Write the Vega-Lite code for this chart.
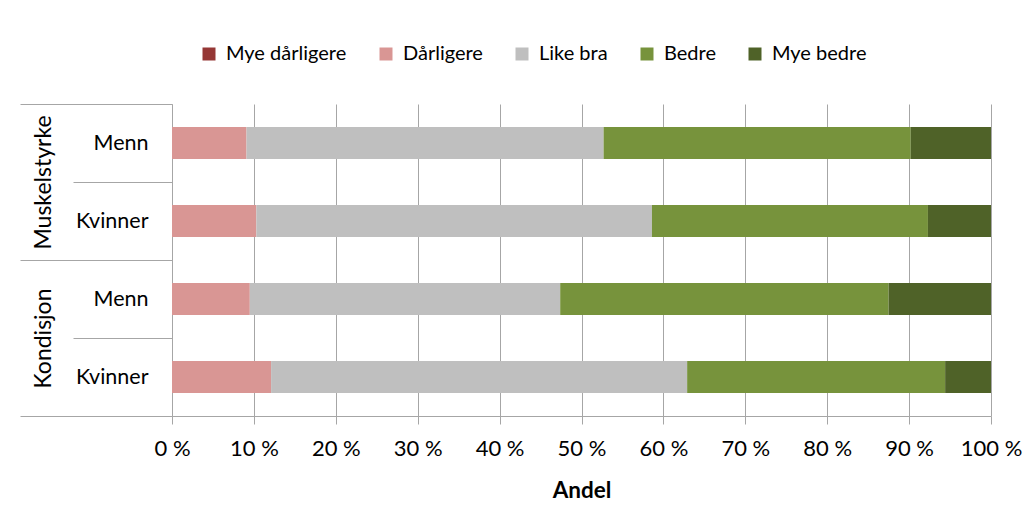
{
  "$schema": "https://vega.github.io/schema/vega-lite/v6.json",
  "width": 819,
  "height": 312,
  "autosize": "none",
  "padding": {"left": 172, "top": 104, "right": 41, "bottom": 116},
  "background": "white",
  "config": {
    "view": {"stroke": null},
    "font": "Lato",
    "axis": {"labelColor": "#000000", "titleColor": "#000000", "labelFont": "Lato", "titleFont": "Lato"},
    "legend": {"labelFont": "Lato"}
  },
  "data": {
    "values": [
      {"Gruppe": "Muskelstyrke", "Rad": "Muskelstyrke Menn", "Svar": "Mye dårligere", "Andel": 0},
      {"Gruppe": "Muskelstyrke", "Rad": "Muskelstyrke Menn", "Svar": "Dårligere", "Andel": 9.1},
      {"Gruppe": "Muskelstyrke", "Rad": "Muskelstyrke Menn", "Svar": "Like bra", "Andel": 43.6},
      {"Gruppe": "Muskelstyrke", "Rad": "Muskelstyrke Menn", "Svar": "Bedre", "Andel": 37.5},
      {"Gruppe": "Muskelstyrke", "Rad": "Muskelstyrke Menn", "Svar": "Mye bedre", "Andel": 9.8},
      {"Gruppe": "Muskelstyrke", "Rad": "Muskelstyrke Kvinner", "Svar": "Mye dårligere", "Andel": 0},
      {"Gruppe": "Muskelstyrke", "Rad": "Muskelstyrke Kvinner", "Svar": "Dårligere", "Andel": 10.3},
      {"Gruppe": "Muskelstyrke", "Rad": "Muskelstyrke Kvinner", "Svar": "Like bra", "Andel": 48.3},
      {"Gruppe": "Muskelstyrke", "Rad": "Muskelstyrke Kvinner", "Svar": "Bedre", "Andel": 33.7},
      {"Gruppe": "Muskelstyrke", "Rad": "Muskelstyrke Kvinner", "Svar": "Mye bedre", "Andel": 7.7},
      {"Gruppe": "Kondisjon", "Rad": "Kondisjon Menn", "Svar": "Mye dårligere", "Andel": 0},
      {"Gruppe": "Kondisjon", "Rad": "Kondisjon Menn", "Svar": "Dårligere", "Andel": 9.5},
      {"Gruppe": "Kondisjon", "Rad": "Kondisjon Menn", "Svar": "Like bra", "Andel": 37.9},
      {"Gruppe": "Kondisjon", "Rad": "Kondisjon Menn", "Svar": "Bedre", "Andel": 40.1},
      {"Gruppe": "Kondisjon", "Rad": "Kondisjon Menn", "Svar": "Mye bedre", "Andel": 12.5},
      {"Gruppe": "Kondisjon", "Rad": "Kondisjon Kvinner", "Svar": "Mye dårligere", "Andel": 0},
      {"Gruppe": "Kondisjon", "Rad": "Kondisjon Kvinner", "Svar": "Dårligere", "Andel": 12.1},
      {"Gruppe": "Kondisjon", "Rad": "Kondisjon Kvinner", "Svar": "Like bra", "Andel": 50.8},
      {"Gruppe": "Kondisjon", "Rad": "Kondisjon Kvinner", "Svar": "Bedre", "Andel": 31.5},
      {"Gruppe": "Kondisjon", "Rad": "Kondisjon Kvinner", "Svar": "Mye bedre", "Andel": 5.6}
    ]
  },
  "transform": [
    {"calculate": "indexof(['Mye dårligere','Dårligere','Like bra','Bedre','Mye bedre'], datum.Svar)", "as": "ordre"}
  ],
  "layer": [
    {
      "mark": {"type": "bar", "opacity": 0},
      "encoding": {
        "y": {
          "field": "Gruppe",
          "type": "nominal",
          "sort": ["Muskelstyrke", "Kondisjon"],
          "scale": {"paddingInner": 0, "paddingOuter": 0},
          "axis": {
            "orient": "left",
            "title": null,
            "domain": false,
            "tickBand": "extent",
            "tickSize": 152,
            "tickColor": "#A6A6A6",
            "labelPadding": -30,
            "labelAngle": -90,
            "labelAlign": "center",
            "labelBaseline": "alphabetic",
            "labelFontSize": 23
          }
        }
      }
    },
    {
      "mark": {"type": "bar", "height": {"band": 0.41}},
      "encoding": {
        "y": {
          "field": "Rad",
          "type": "nominal",
          "sort": ["Muskelstyrke Menn", "Muskelstyrke Kvinner", "Kondisjon Menn", "Kondisjon Kvinner"],
          "scale": {"paddingInner": 0, "paddingOuter": 0},
          "axis": {
            "orient": "left",
            "title": null,
            "domain": false,
            "tickBand": "extent",
            "tickSize": 99,
            "tickColor": "#A6A6A6",
            "labelPadding": -75,
            "labelAlign": "right",
            "labelBaseline": "middle",
            "labelFontSize": 21.5,
            "labelExpr": "split(datum.label, ' ')[1]"
          }
        },
        "x": {
          "field": "Andel",
          "type": "quantitative",
          "stack": true,
          "scale": {"domain": [0, 100]},
          "axis": {
            "title": "Andel",
            "titleFontSize": 22.5,
            "titleFontWeight": "bold",
            "titlePadding": 20,
            "values": [0, 10, 20, 30, 40, 50, 60, 70, 80, 90, 100],
            "labelExpr": "datum.value + ' %'",
            "labelFontSize": 22,
            "labelPadding": 14,
            "labelOverlap": false,
            "labelFlush": false,
            "tickSize": 8,
            "tickColor": "#A6A6A6",
            "domainColor": "#A6A6A6",
            "grid": true,
            "gridColor": "#A6A6A6",
            "gridOpacity": 1
          }
        },
        "color": {
          "field": "Svar",
          "type": "nominal",
          "sort": ["Mye dårligere", "Dårligere", "Like bra", "Bedre", "Mye bedre"],
          "scale": {
            "domain": ["Mye dårligere", "Dårligere", "Like bra", "Bedre", "Mye bedre"],
            "range": ["#953735", "#D99694", "#BFBFBF", "#77933C", "#4F6228"]
          },
          "legend": {
            "title": null,
            "orient": "none",
            "direction": "horizontal",
            "legendX": 27,
            "legendY": -60,
            "padding": 0,
            "symbolType": "square",
            "symbolSize": 169,
            "symbolStrokeWidth": 0,
            "symbolOpacity": 1,
            "labelFontSize": 20,
            "labelOffset": 7,
            "columnPadding": 29,
            "labelColor": "#000000"
          }
        },
        "order": {"field": "ordre", "type": "quantitative"}
      }
    }
  ],
  "resolve": {"scale": {"y": "independent"}}
}
